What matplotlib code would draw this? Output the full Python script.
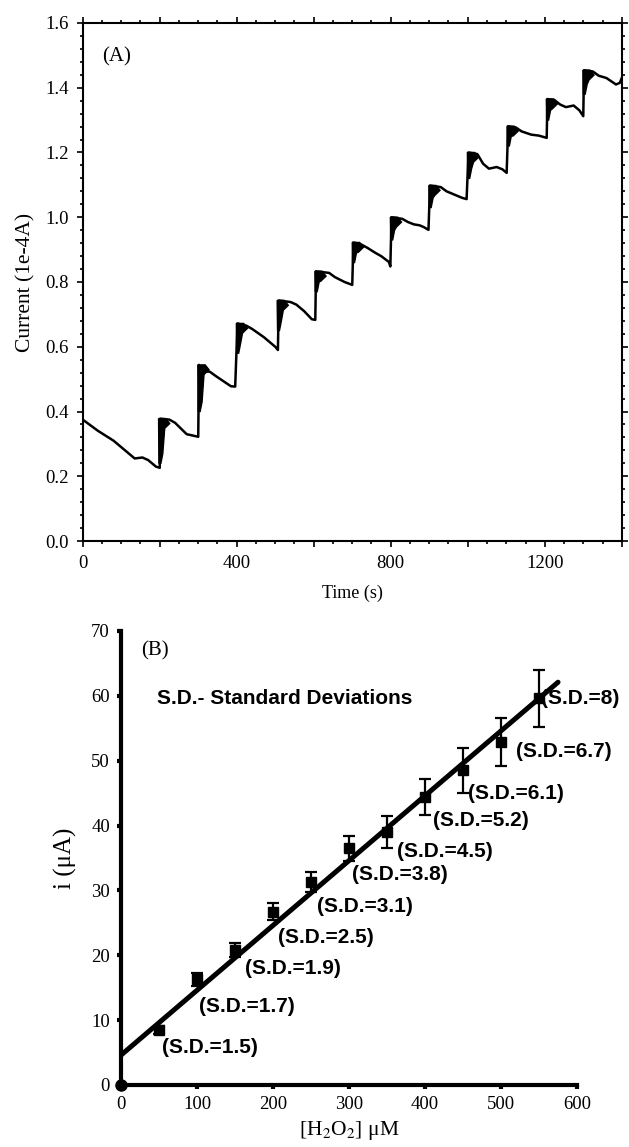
import numpy as np
import matplotlib
matplotlib.use("Agg")
import matplotlib.pyplot as plt
from matplotlib.ticker import MultipleLocator, FuncFormatter

plt.rcParams['font.family'] = ['Liberation Serif', 'DejaVu Serif']
plt.rcParams['mathtext.fontset'] = 'stix'

# ---- panel A: amperometric trace ----
t_trace = [0, 40, 80, 120, 135, 155, 170, 190, 200,
           201, 225, 240, 270, 300,
           302, 305, 330, 345, 370, 385, 396,
           402, 425, 440, 470, 500, 507,
           509, 540, 555, 575, 595, 604,
           606, 640, 655, 680, 700,
           703, 720, 740, 760, 775, 795, 799,
           802, 830, 845, 860, 875, 885, 898,
           902, 930, 945, 965, 985, 997,
           1002, 1025, 1040, 1055, 1075, 1090, 1101,
           1105, 1125, 1140, 1165, 1185, 1205,
           1207, 1225, 1240, 1255, 1275, 1290, 1300,
           1302, 1325, 1340, 1360, 1375, 1385, 1395, 1400]
i_trace = [0.375, 0.34, 0.31, 0.27, 0.255, 0.258, 0.25, 0.23, 0.226,
           0.378, 0.375, 0.365, 0.33, 0.322,
           0.544, 0.525, 0.523, 0.51, 0.49, 0.478, 0.477,
           0.672, 0.665, 0.655, 0.630, 0.600, 0.590,
           0.743, 0.738, 0.730, 0.710, 0.685, 0.683,
           0.833, 0.828, 0.815, 0.800, 0.791,
           0.922, 0.918, 0.905, 0.890, 0.880, 0.862, 0.848,
           1.000, 0.995, 0.985, 0.978, 0.975, 0.970, 0.961,
           1.098, 1.093, 1.080, 1.070, 1.060, 1.056,
           1.200, 1.195, 1.165, 1.150, 1.155, 1.148, 1.137,
           1.281, 1.277, 1.265, 1.255, 1.252, 1.245,
           1.365, 1.362, 1.348, 1.340, 1.345, 1.330, 1.312,
           1.454, 1.450, 1.437, 1.430, 1.418, 1.410, 1.415, 1.430]

# noisy filled part right after each injection
step_t = [200, 302, 402, 508, 606, 703, 802, 902, 1002, 1105, 1207, 1302]
step_top = [0.378, 0.544, 0.672, 0.743, 0.833, 0.922, 1.000, 1.098, 1.200, 1.281, 1.365, 1.454]
step_low = [0.24, 0.40, 0.58, 0.65, 0.77, 0.86, 0.93, 1.03, 1.12, 1.22, 1.30, 1.38]

# ---- panel B: calibration ----
conc = [50, 100, 150, 200, 250, 300, 350, 400, 450, 500, 550]
resp = [8.5, 16.3, 20.8, 26.7, 31.3, 36.5, 39.0, 44.4, 48.5, 52.9, 59.6]
err = [0.6, 1.0, 1.1, 1.3, 1.6, 1.9, 2.5, 2.8, 3.5, 3.7, 4.4]
sd_text = ["1.5", "1.7", "1.9", "2.5", "3.1", "3.8", "4.5", "5.2", "6.1", "6.7", "8"]
sd_x = [54, 102, 163, 207, 258, 304, 363, 411, 457, 520, 552]
sd_y = [5.7, 12.1, 18.0, 22.8, 27.5, 32.4, 36.0, 40.8, 44.9, 51.4, 59.6]
fit_x = [0, 575]
fit_y = [4.6, 62.1]

fig = plt.figure(figsize=(6.29, 11.47), dpi=100)

ax = fig.add_axes([0.1315, 0.5283, 0.857, 0.4517])
ax.plot(t_trace, i_trace, color='black', lw=1.8)
for k in range(len(step_t)):
    t0 = step_t[k]
    top = step_top[k]
    low = step_low[k]
    poly_x = [t0 - 2, t0 - 3, t0 + 16, t0 + 26, t0 + 13, t0 + 8, t0 + 3]
    poly_y = [low, top, top, top - 0.015, top - 0.03, low + 0.03, low]
    ax.fill(poly_x, poly_y, color='black', lw=1)
ax.set_xlim(0, 1400)
ax.set_ylim(0, 1.6)
ax.xaxis.set_major_locator(MultipleLocator(200))
ax.xaxis.set_minor_locator(MultipleLocator(50))
ax.xaxis.set_major_formatter(FuncFormatter(lambda v, p: "%d" % v if int(v) % 400 == 0 else ""))
ax.yaxis.set_major_locator(MultipleLocator(0.2))
ax.yaxis.set_minor_locator(MultipleLocator(0.04))
ax.yaxis.set_major_formatter(FuncFormatter(lambda v, p: "%.1f" % v))
ax.tick_params(which='both', direction='out', top=True, right=True, labelsize=13.5, width=1.2)
ax.tick_params(which='major', length=4, pad=6)
ax.tick_params(which='minor', length=2)
for s in ax.spines.values():
    s.set_linewidth(1.5)
ax.set_xlabel("Time (s)", fontsize=13, labelpad=9)
ax.set_ylabel("Current (1e-4A)", fontsize=15.5, labelpad=7)
ax.text(50, 1.496, "(A)", fontsize=15, va='center')

bx = fig.add_axes([0.1924, 0.0541, 0.725, 0.3958])
bx.plot(fit_x, fit_y, color='black', lw=3.6, solid_capstyle='round')
bx.errorbar(conc, resp, yerr=err, fmt='s', color='black', ms=7,
            elinewidth=1.6, capsize=4, capthick=1.6)
bx.plot([0], [0], 'o', color='black', ms=8, clip_on=False, zorder=5)
for k in range(len(sd_text)):
    bx.text(sd_x[k], sd_y[k], "(S.D.=" + sd_text[k] + ")", fontsize=15,
            family='Liberation Sans', weight='bold', ha='left', va='center')
bx.text(47, 59.6, "S.D.- Standard Deviations", fontsize=15,
        family='Liberation Sans', weight='bold', ha='left', va='center')
bx.text(27, 66.9, "(B)", fontsize=15, ha='left', va='center')
bx.set_xlim(0, 600)
bx.set_ylim(0, 70)
bx.xaxis.set_major_locator(MultipleLocator(100))
bx.yaxis.set_major_locator(MultipleLocator(10))
bx.spines['top'].set_visible(False)
bx.spines['right'].set_visible(False)
bx.spines['left'].set_linewidth(3)
bx.spines['bottom'].set_linewidth(3)
bx.tick_params(direction='out', length=3, width=3, labelsize=13.5, pad=5)
bx.set_xlabel("[H$_2$O$_2$] μM", fontsize=15.5, labelpad=4)
bx.set_ylabel("i (μA)", fontsize=18, labelpad=10)

fig.savefig("out.png", dpi=100)
